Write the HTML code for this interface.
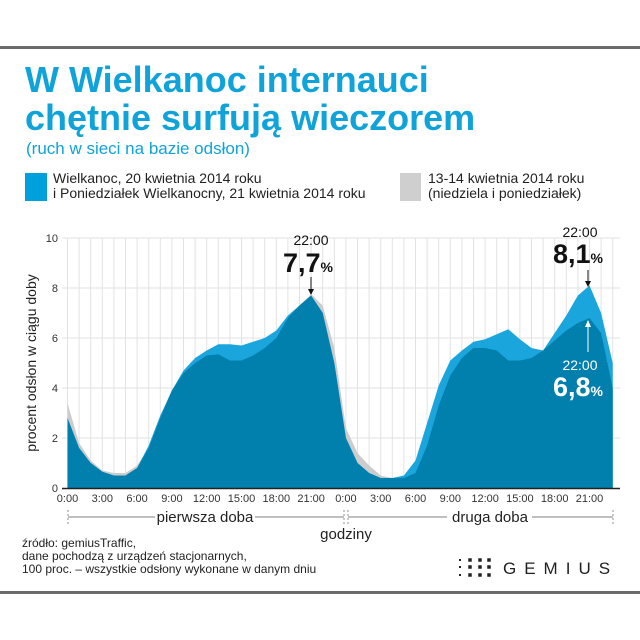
<!DOCTYPE html><html><head><meta charset="utf-8"><style>
body{margin:0;width:640px;height:640px;background:#fff;font-family:"Liberation Sans",sans-serif;overflow:hidden;position:relative}
.a{position:absolute;white-space:nowrap}
</style></head><body>
<div class="a" style="left:0;top:46px;width:640px;height:3px;background:#6a6a6a"></div>
<div class="a" style="left:0;top:591px;width:640px;height:3px;background:#6a6a6a"></div>
<svg class="a" style="left:0;top:0" width="640" height="640" id="s"></svg>
<script>
var E=[2.8,1.6,1.0,0.65,0.5,0.5,0.8,1.7,2.9,3.9,4.7,5.2,5.5,5.75,5.75,5.7,5.85,6.0,6.3,6.9,7.3,7.7,7.0,5.0,
2.0,1.0,0.6,0.4,0.4,0.5,1.1,2.6,4.1,5.1,5.5,5.85,5.95,6.15,6.35,5.95,5.6,5.5,6.2,6.9,7.7,8.1,7.0,5.0];
var G=[3.4,1.8,1.1,0.7,0.6,0.6,0.9,1.6,2.8,3.9,4.6,5.0,5.3,5.35,5.1,5.1,5.3,5.6,6.0,6.8,7.3,7.75,7.3,5.6,
2.4,1.4,0.9,0.5,0.4,0.4,0.6,1.7,3.3,4.5,5.2,5.6,5.6,5.5,5.1,5.1,5.2,5.5,5.9,6.3,6.6,6.8,6.2,4.0];
var x0=67.5,dx=11.6,y0=488,sy=25;
function X(i){return x0+i*dx}function Y(v){return y0-v*sy}
function area(a,c){var p='M'+X(0)+','+y0;a.forEach(function(v,i){p+=' L'+X(i).toFixed(1)+','+Y(v).toFixed(1)});p+=' L'+X(a.length-1)+','+y0+'Z';return '<path d="'+p+'" fill="'+c+'"/>'}
var s='';
s+='<text x="25" y="92" font-size="36" font-weight="bold" fill="#0fa3da">W Wielkanoc internauci</text>';
s+='<text x="25" y="130" font-size="36" font-weight="bold" fill="#0fa3da">chętnie surfują wieczorem</text>';
s+='<text x="26" y="154" font-size="17" fill="#0fa3da">(ruch w sieci na bazie odsłon)</text>';
s+='<rect x="25" y="173" width="22" height="28" fill="#00a0dc"/><rect x="400" y="173" width="21" height="28" fill="#cfcfcf"/>';
s+='<text x="53" y="183" font-size="14" fill="#222">Wielkanoc, 20 kwietnia 2014 roku</text><text x="53" y="198" font-size="14" fill="#222">i Poniedziałek Wielkanocny, 21 kwietnia 2014 roku</text>';
s+='<text x="428" y="183" font-size="14" fill="#222">13-14 kwietnia 2014 roku</text><text x="428" y="198" font-size="14" fill="#222">(niedziela i poniedziałek)</text>';
for(var i=0;i<48;i++)s+='<line x1="'+X(i)+'" x2="'+X(i)+'" y1="238" y2="488" stroke="#e2e2e2" stroke-width="1"/>';
for(var k=1;k<=5;k++)s+='<line x1="62" x2="620" y1="'+Y(2*k)+'" y2="'+Y(2*k)+'" stroke="#e2e2e2"/>';
for(var k=0;k<=5;k++)s+='<text x="58" y="'+(Y(2*k)+4)+'" font-size="11" fill="#333" text-anchor="end">'+(2*k)+'</text>';
s+=area(G,'#cccccc')+area(E,'#1aa6dc')+area(E.map(function(v,i){return Math.min(v,G[i])}),'#0280ad');
s+='<line x1="62" x2="620" y1="488.5" y2="488.5" stroke="#222" stroke-width="1.5"/>';
var L=['0:00','3:00','6:00','9:00','12:00','15:00','18:00','21:00'];
for(var d=0;d<2;d++)for(var j=0;j<8;j++)s+='<text x="'+X(d*24+j*3)+'" y="502" font-size="11" fill="#333" text-anchor="middle">'+L[j]+'</text>';
s+='<text transform="translate(36,363) rotate(-90)" font-size="14" fill="#222" text-anchor="middle">procent odsłon w ciągu doby</text>';
s+='<line x1="68" x2="155" y1="517" y2="517" stroke="#555" stroke-width="0.8"/><line x1="255" x2="344" y1="517" y2="517" stroke="#555" stroke-width="0.8"/>';
s+='<line x1="348" x2="447" y1="517" y2="517" stroke="#555" stroke-width="0.8"/><line x1="532" x2="613" y1="517" y2="517" stroke="#555" stroke-width="0.8"/>';
[68,344,348,613].forEach(function(x){s+='<line x1="'+x+'" x2="'+x+'" y1="510" y2="524" stroke="#777" stroke-width="0.8" stroke-dasharray="2,2"/>'});
s+='<text x="205" y="522" font-size="15" fill="#222" text-anchor="middle">pierwsza doba</text><text x="490" y="522" font-size="15" fill="#222" text-anchor="middle">druga doba</text><text x="346" y="539" font-size="15" fill="#222" text-anchor="middle">godziny</text>';
s+='<text x="311" y="245" font-size="14" fill="#111" text-anchor="middle">22:00</text><text x="308" y="272" font-size="27" font-weight="bold" fill="#111" text-anchor="middle">7,7<tspan font-size="14">%</tspan></text>';
s+='<line x1="311" x2="311" y1="277" y2="292" stroke="#111"/><path d="M308,289 L311,295 L314,289Z" fill="#111"/>';
s+='<text x="580" y="237" font-size="14" fill="#111" text-anchor="middle">22:00</text><text x="578" y="263" font-size="27" font-weight="bold" fill="#111" text-anchor="middle">8,1<tspan font-size="14">%</tspan></text>';
s+='<line x1="588" x2="588" y1="270" y2="284" stroke="#111"/><path d="M585,281 L588,287 L591,281Z" fill="#111"/>';
s+='<line x1="588" x2="588" y1="324" y2="352" stroke="#fff"/><path d="M585,327 L588,320 L591,327Z" fill="#fff"/>';
s+='<text x="580" y="370" font-size="14" fill="#fff" text-anchor="middle">22:00</text><text x="578" y="396" font-size="27" font-weight="bold" fill="#fff" text-anchor="middle">6,8<tspan font-size="14">%</tspan></text>';
s+='<text x="22" y="547" font-size="12" fill="#222">źródło: gemiusTraffic,</text><text x="22" y="560" font-size="12" fill="#222">dane pochodzą z urządzeń stacjonarnych,</text><text x="22" y="573" font-size="12" fill="#222">100 proc. – wszystkie odsłony wykonane w danym dniu</text>';
var xs=[460,470,480,489],ys=[560,567,575];
ys.forEach(function(y){xs.forEach(function(x,i){var sz=i==0?2:3.5;s+='<rect x="'+(x-sz/2)+'" y="'+(y-sz/2)+'" width="'+sz+'" height="'+sz+'" fill="#222"/>'})});
s+='<text x="503" y="574" font-size="17" fill="#222" letter-spacing="8">GEMIUS</text>';
document.getElementById('s').innerHTML=s;
</script>
</body></html>
